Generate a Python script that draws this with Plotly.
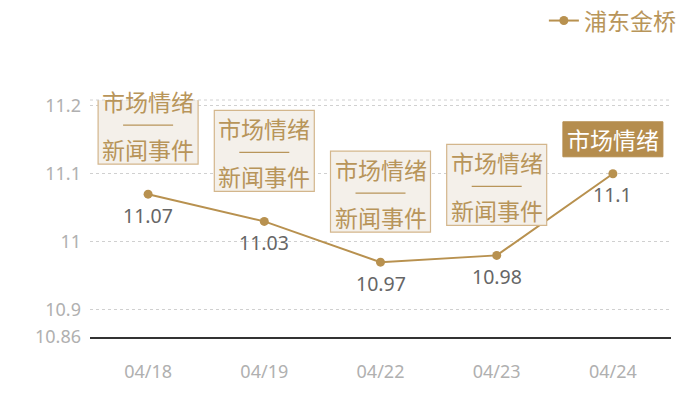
import plotly.graph_objects as go

# data
dates = ['04/18', '04/19', '04/22', '04/23', '04/24']
prices = [11.07, 11.03, 10.97, 10.98, 11.1]
series_name = '浦东金桥'
tag_top = ['市场情绪', '市场情绪', '市场情绪', '市场情绪', '市场情绪']
tag_bottom = ['新闻事件', '新闻事件', '新闻事件', '新闻事件', None]
y_ticks = [10.86, 10.9, 11, 11.1, 11.2]
y_ticktext = ['10.86', '10.9', '11', '11.1', '11.2']

FONT = 'Noto Sans CJK SC'
NUM_FONT = 'Noto Sans'
GOLD = '#b8914f'
TAG_TEXT = '#b8955a'
TAG_BORDER = '#d3b68c'
TAG_BG = '#f4f0ea'

fig = go.Figure()
fig.add_trace(go.Scatter(
    x=dates, y=prices, name=series_name,
    mode='lines+markers',
    line=dict(color=GOLD, width=2),
    marker=dict(color=GOLD, size=9),
))

shapes = []
annotations = []
for i, (d, v) in enumerate(zip(dates, prices)):
    # value label under the point
    annotations.append(dict(x=d, y=v, xref='x', yref='y', text=str(v),
                            showarrow=False, yshift=-21,
                            font=dict(family=NUM_FONT, size=19.5, color='#666666')))
    if tag_bottom[i] is not None:
        # framed two-line tag
        shapes.append(dict(type='rect', xref='x', yref='y',
                           xsizemode='pixel', ysizemode='pixel',
                           xanchor=i, yanchor=v,
                           x0=-50, x1=50, y0=30, y1=111,
                           fillcolor=TAG_BG, line=dict(color=TAG_BORDER, width=1.2),
                           layer='above'))
        shapes.append(dict(type='line', xref='x', yref='y',
                           xsizemode='pixel', ysizemode='pixel',
                           xanchor=i, yanchor=v,
                           x0=-25, x1=25, y0=69, y1=69,
                           line=dict(color=TAG_TEXT, width=1.3),
                           layer='above'))
        annotations.append(dict(x=d, y=v, xref='x', yref='y', text=tag_top[i],
                                showarrow=False, yshift=93,
                                font=dict(family=FONT, size=23, color=TAG_TEXT)))
        annotations.append(dict(x=d, y=v, xref='x', yref='y', text=tag_bottom[i],
                                showarrow=False, yshift=45,
                                font=dict(family=FONT, size=23, color=TAG_TEXT)))
    else:
        # filled single tag
        shapes.append(dict(type='rect', xref='x', yref='y',
                           xsizemode='pixel', ysizemode='pixel',
                           xanchor=i, yanchor=v,
                           x0=-50, x1=50, y0=17, y1=52,
                           fillcolor='#b58d4e', line=dict(color='#b58d4e', width=1),
                           layer='above'))
        annotations.append(dict(x=d, y=v, xref='x', yref='y', text=tag_top[i],
                                showarrow=False, yshift=35,
                                font=dict(family=FONT, size=23, color='white')))

# dotted top border of plot area
shapes.append(dict(type='line', xref='paper', yref='paper', x0=0, x1=1, y0=1, y1=1,
                   line=dict(color='#d0d0d0', width=1, dash='dot')))

fig.update_layout(
    width=700, height=400,
    margin=dict(l=82, r=37, t=92, b=71, autoexpand=False),
    paper_bgcolor='white', plot_bgcolor='white',
    font=dict(family=FONT),
    shapes=shapes, annotations=annotations,
    showlegend=True,
    legend=dict(x=1.017, xanchor='right', y=1.335, yanchor='middle',
                font=dict(family=FONT, size=23, color=TAG_TEXT),
                bgcolor='rgba(0,0,0,0)', itemwidth=30,
                tracegroupgap=0),
    xaxis=dict(type='category', range=[-0.5, 4.5], showgrid=False,
               showline=True, linecolor='#333333', linewidth=1.5,
               ticks='', ticklabelstandoff=18,
               tickfont=dict(family=NUM_FONT, size=18, color='#b0b0b0')),
    yaxis=dict(range=[10.86, 11.2085], tickvals=y_ticks, ticktext=y_ticktext,
               showgrid=True, gridcolor='#d0d0d0', griddash='dot', gridwidth=1,
               zeroline=False, showline=False, ticks='', ticklabelstandoff=8,
               tickfont=dict(family=NUM_FONT, size=18, color='#b0b0b0')),
)

fig.write_html('out.html')
